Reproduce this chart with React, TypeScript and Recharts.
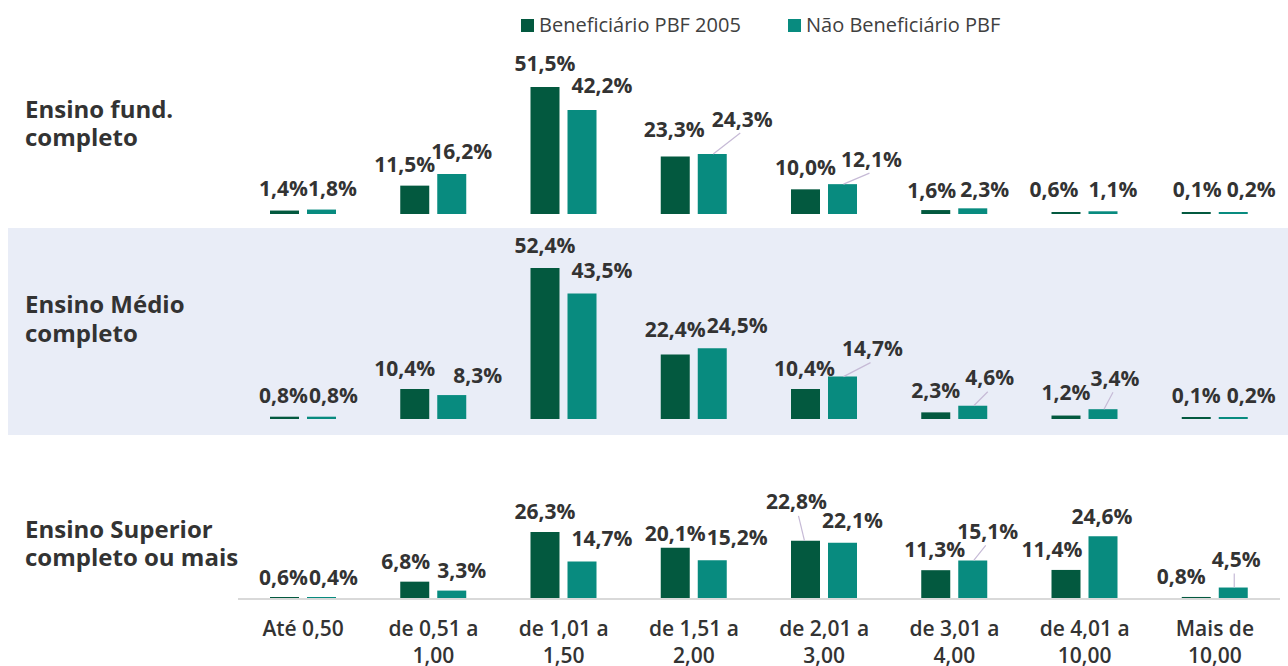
import React from 'react';
import { BarChart, Bar, XAxis, YAxis, LabelList } from 'recharts';

// ---------- data ----------
const categories = [
  'Até 0,50',
  'de 0,51 a\n1,00',
  'de 1,01 a\n1,50',
  'de 1,51 a\n2,00',
  'de 2,01 a\n3,00',
  'de 3,01 a\n4,00',
  'de 4,01 a\n10,00',
  'Mais de\n10,00',
];
const seriesNames = ['Beneficiário PBF 2005', 'Não Beneficiário PBF'];

const fundBenef = [1.4, 11.5, 51.5, 23.3, 10.0, 1.6, 0.6, 0.1];
const fundNao = [1.8, 16.2, 42.2, 24.3, 12.1, 2.3, 1.1, 0.2];
const medioBenef = [0.8, 10.4, 52.4, 22.4, 10.4, 2.3, 1.2, 0.1];
const medioNao = [0.8, 8.3, 43.5, 24.5, 14.7, 4.6, 3.4, 0.2];
const superiorBenef = [0.6, 6.8, 26.3, 20.1, 22.8, 11.3, 11.4, 0.8];
const superiorNao = [0.4, 3.3, 14.7, 15.2, 22.1, 15.1, 24.6, 4.5];

const panelTitles = [
  ['Ensino fund.', 'completo'],
  ['Ensino Médio', 'completo'],
  ['Ensino Superior', 'completo ou mais'],
];

// ---------- styles ----------
const DARK = '#03593f';
const TEAL = '#088b7f';
const TEXT = '#333333';
const LEADER = '#c6bad6';
const PANEL_BG = '#e9edf7';
const FONT = '"Open Sans", "Noto Sans", sans-serif';

// label placement: [dx from bar centre, distance of label centre above bar top]
const fundBenefLabelPos = [[-1, 22], [-10, 21], [0, 23], [-1, 27], [0, 22], [-4, 20], [-12, 23], [1, 23]];
const fundNaoLabelPos = [[11, 21], [10, 23], [20, 24], [30, 35], [29, 25], [12, 19], [10, 22], [18, 23]];
const medioBenefLabelPos = [[-1, 21], [-10, 21], [0, 22], [0, 25], [-1, 21], [0, 22], [0, 23], [0, 22]];
const medioNaoLabelPos = [[12, 21], [26, 20], [20, 23], [25, 23], [30, 28], [17, 28], [12, 31], [18, 22]];
const superiorBenefLabelPos = [[-1, 20], [-9, 20], [0, 20], [0, 14], [-9, 39], [-1, 21], [-14, 20], [-15, 20]];
const superiorNaoLabelPos = [[12, 20], [10, 20], [20, 23], [25, 23], [10, 22], [15, 29], [-1, 20], [3, 28]];

const fundNaoLeaders = [3, 4];
const medioNaoLeaders = [4, 5, 6];
const superiorBenefLeaders = [4];
const superiorNaoLeaders = [5, 7];

const fmt = (v: number) => v.toFixed(1).replace('.', ',') + '%';

function makeLabel(pos: number[][], leaders: number[]) {
  return (props: any) => {
    const vb = props.viewBox || {};
    const x = props.x ?? vb.x;
    const y = props.y ?? vb.y;
    const w = props.width ?? vb.width;
    const h = props.height ?? vb.height;
    const i = props.index;
    const p = pos[i] || [0, 22];
    const cx = x + w / 2;
    const top = Math.min(y, y + h);
    const lx = cx + p[0];
    const ly = top - p[1];
    const hasLeader = leaders.includes(i);
    const s = p[0] >= 0 ? 1 : -1;
    return (
      <g>
        {hasLeader && (
          <line x1={cx + s} y1={top} x2={lx - 2 * s} y2={ly + 14} stroke={LEADER} strokeWidth={1.2} />
        )}
        <text
          x={lx}
          y={ly + 7.5}
          textAnchor="middle"
          fontFamily={FONT}
          fontWeight={700}
          fontSize={21}
          fill={TEXT}
        >
          {fmt(Number(props.value))}
        </text>
      </g>
    );
  };
}

const buildRows = (a: number[], b: number[]) =>
  categories.map((c, i) => ({ cat: c, benef: a[i], nao: b[i] }));

const CategoryTick = (props: any) => {
  const { x, y, payload } = props;
  const lines = String(payload.value).split('\n');
  return (
    <text textAnchor="middle" fontFamily={FONT} fontWeight={600} fontSize={21} fill={TEXT}>
      {lines.map((l, i) => (
        <tspan key={i} x={x} y={y + 37 + i * 27}>
          {l}
        </tspan>
      ))}
    </text>
  );
};

export default function App() {
  const rows1 = buildRows(fundBenef, fundNao);
  const rows2 = buildRows(medioBenef, medioNao);
  const rows3 = buildRows(superiorBenef, superiorNao);

  const bars = (aPos: number[][], bPos: number[][], aLead: number[], bLead: number[]) => [
    <Bar key="a" dataKey="benef" name={seriesNames[0]} fill={DARK} isAnimationActive={false} minPointSize={2}>
      <LabelList dataKey="benef" content={makeLabel(aPos, aLead)} />
    </Bar>,
    <Bar key="b" dataKey="nao" name={seriesNames[1]} fill={TEAL} isAnimationActive={false} minPointSize={2}>
      <LabelList dataKey="nao" content={makeLabel(bPos, bLead)} />
    </Bar>,
  ];

  return (
    <div
      style={{
        position: 'absolute',
        left: 0,
        top: 0,
        width: 1288,
        height: 666,
        background: '#ffffff',
        overflow: 'hidden',
        fontFamily: FONT,
      }}
    >
      {/* panel 1 */}
      <div style={{ position: 'absolute', left: 0, top: 0 }}>
        <BarChart
          width={1288}
          height={220}
          data={rows1}
          margin={{ top: 66, right: 8, bottom: 6, left: 238 }}
          barSize={29}
          barGap={8}
        >
          <XAxis dataKey="cat" hide />
          <YAxis domain={[0, 60]} hide />
          {bars(fundBenefLabelPos, fundNaoLabelPos, [], fundNaoLeaders)}
        </BarChart>
      </div>

      {/* panel 2 */}
      <div style={{ position: 'absolute', left: 8, top: 228, width: 1280, height: 207, background: PANEL_BG }}>
        <BarChart
          width={1280}
          height={207}
          data={rows2}
          margin={{ top: 18, right: 8, bottom: 16, left: 230 }}
          barSize={29}
          barGap={8}
        >
          <XAxis dataKey="cat" hide />
          <YAxis domain={[0, 60]} hide />
          {bars(medioBenefLabelPos, medioNaoLabelPos, [], medioNaoLeaders)}
        </BarChart>
      </div>

      {/* panel 3 */}
      <div style={{ position: 'absolute', left: 0, top: 430 }}>
        <BarChart
          width={1288}
          height={236}
          data={rows3}
          margin={{ top: 16, right: 8, bottom: 0, left: 238 }}
          barSize={29}
          barGap={8}
        >
          <XAxis
            dataKey="cat"
            height={67}
            interval={0}
            tickLine={false}
            tickSize={0}
            tickMargin={0}
            axisLine={{ stroke: '#d9d9d9', strokeWidth: 2 }}
            tick={<CategoryTick />}
          />
          <YAxis domain={[0, 60]} hide />
          {bars(superiorBenefLabelPos, superiorNaoLabelPos, superiorBenefLeaders, superiorNaoLeaders)}
        </BarChart>
      </div>

      {/* legend and panel titles */}
      <svg
        width={1288}
        height={666}
        style={{ position: 'absolute', left: 0, top: 0, pointerEvents: 'none' }}
      >
        <rect x={521} y={19} width={13} height={13} fill={DARK} />
        <text x={539} y={32} fontFamily={FONT} fontSize={20} fill="#404040">
          {seriesNames[0]}
        </text>
        <rect x={788} y={19} width={13} height={13} fill={TEAL} />
        <text x={806} y={32} fontFamily={FONT} fontSize={20} fill="#404040">
          {seriesNames[1]}
        </text>

        {[
          [117.7, 146],
          [313, 341.5],
          [537.5, 566],
        ].map((ys, pi) => (
          <text key={pi} fontFamily={FONT} fontWeight={700} fontSize={24} fill={TEXT}>
            {panelTitles[pi].map((t, li) => (
              <tspan key={li} x={25} y={ys[li]}>
                {t}
              </tspan>
            ))}
          </text>
        ))}
      </svg>
    </div>
  );
}
